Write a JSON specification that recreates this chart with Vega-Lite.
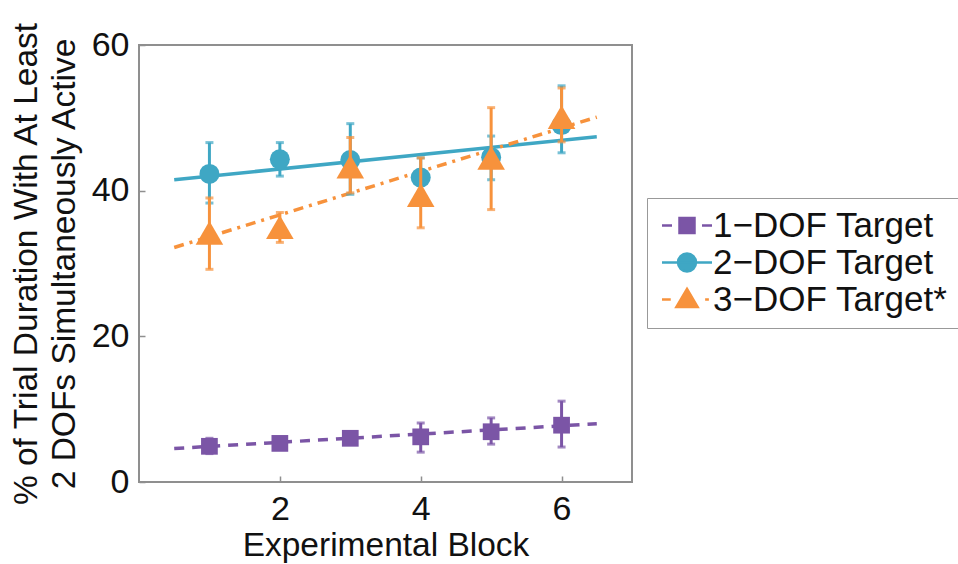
{
  "$schema": "https://vega.github.io/schema/vega-lite/v6.json",
  "width": 493,
  "height": 437,
  "autosize": "none",
  "padding": {"left": 139, "top": 45, "right": 326, "bottom": 82},
  "background": "white",
  "config": {
    "font": "Liberation Sans",
    "view": {"stroke": "#8f8f8f", "strokeWidth": 2},
    "axis": {
      "grid": false,
      "domain": false,
      "labelFont": "Liberation Sans",
      "labelFontSize": 34,
      "labelColor": "#111111",
      "titleFont": "Liberation Sans",
      "titleFontSize": 33.5,
      "titleFontWeight": "normal",
      "titleColor": "#111111",
      "tickColor": "#8f8f8f",
      "tickSize": -6,
      "tickWidth": 1.5
    }
  },
  "datasets": {
    "points": [
      {"series": "1−DOF Target", "block": 1, "mean": 4.9, "lo": 3.9, "hi": 6.0},
      {"series": "1−DOF Target", "block": 2, "mean": 5.3, "lo": 4.6, "hi": 6.0},
      {"series": "1−DOF Target", "block": 3, "mean": 6.0, "lo": 5.2, "hi": 6.8},
      {"series": "1−DOF Target", "block": 4, "mean": 6.2, "lo": 4.1, "hi": 8.1},
      {"series": "1−DOF Target", "block": 5, "mean": 6.9, "lo": 5.2, "hi": 8.8},
      {"series": "1−DOF Target", "block": 6, "mean": 7.8, "lo": 4.8, "hi": 11.1},
      {"series": "2−DOF Target", "block": 1, "mean": 42.3, "lo": 38.3, "hi": 46.6},
      {"series": "2−DOF Target", "block": 2, "mean": 44.3, "lo": 42.0, "hi": 46.6},
      {"series": "2−DOF Target", "block": 3, "mean": 44.2, "lo": 39.5, "hi": 49.2},
      {"series": "2−DOF Target", "block": 4, "mean": 41.8, "lo": 39.0, "hi": 44.5},
      {"series": "2−DOF Target", "block": 5, "mean": 44.6, "lo": 41.5, "hi": 47.5},
      {"series": "2−DOF Target", "block": 6, "mean": 49.0, "lo": 45.2, "hi": 54.4},
      {"series": "3−DOF Target*", "block": 1, "mean": 34.2, "lo": 29.2, "hi": 39.0},
      {"series": "3−DOF Target*", "block": 2, "mean": 35.0, "lo": 32.9, "hi": 37.0},
      {"series": "3−DOF Target*", "block": 3, "mean": 43.3, "lo": 39.7, "hi": 47.3},
      {"series": "3−DOF Target*", "block": 4, "mean": 39.4, "lo": 34.9, "hi": 44.5},
      {"series": "3−DOF Target*", "block": 5, "mean": 44.5, "lo": 37.4, "hi": 51.4},
      {"series": "3−DOF Target*", "block": 6, "mean": 50.1, "lo": 46.7, "hi": 54.1}
    ],
    "fits": [
      {"series": "1−DOF Target", "block": 0.5, "fit": 4.6},
      {"series": "1−DOF Target", "block": 6.5, "fit": 8.0},
      {"series": "2−DOF Target", "block": 0.5, "fit": 41.5},
      {"series": "2−DOF Target", "block": 6.5, "fit": 47.4},
      {"series": "3−DOF Target*", "block": 0.5, "fit": 32.2},
      {"series": "3−DOF Target*", "block": 6.5, "fit": 50.1}
    ]
  },
  "encoding": {
    "x": {
      "field": "block", "type": "quantitative",
      "scale": {"domain": [0, 7], "nice": false, "zero": false},
      "axis": {"values": [2, 4, 6], "title": "Experimental Block", "labelPadding": 16, "titlePadding": 3}
    },
    "color": {
      "field": "series", "type": "nominal",
      "scale": {"domain": ["1−DOF Target", "2−DOF Target", "3−DOF Target*"], "range": ["#7b55a6", "#3fa7c4", "#f7923c"]},
      "legend": {
        "title": null,
        "orient": "none",
        "legendX": 508,
        "legendY": 153,
        "labelFont": "Liberation Sans",
        "labelFontSize": 35,
        "labelColor": "#111111",
        "labelOffset": 21,
        "labelLimit": 500,
        "padding": 10,
        "rowPadding": 1,
        "strokeColor": "#999999",
        "fillColor": "white",
        "cornerRadius": 0,
        "symbolSize": 625,
        "symbolStrokeWidth": 2.5,
        "symbolOpacity": 1,
        "encoding": {
          "symbols": {
            "shape": {
              "condition": [
                {"test": "indexof(datum.value, '1') === 0", "value": "M-1,0H-0.2M0.4,-0.6H1.6V0.6H0.4ZM2.2,0H3"},
                {"test": "indexof(datum.value, '2') === 0", "value": "M-1,0H3M0.28,0A0.72,0.72 0 1,0 1.72,0A0.72,0.72 0 1,0 0.28,0Z"}
              ],
              "value": "M-1,0H-0.3M1,-0.85L1.85,0.6H0.15ZM2.45,0H2.75"
            },
            "strokeWidth": {"value": 2.5},
            "size": {"value": 625},
            "opacity": {"value": 1},
            "fillOpacity": {"value": 1}
          }
        }
      }
    }
  },
  "layer": [
    {
      "data": {"name": "fits"},
      "transform": [{"filter": "datum.series === '1−DOF Target'"}],
      "mark": {"type": "line", "strokeWidth": 3.5, "strokeDash": [10, 8]},
      "encoding": {
        "y": {
          "field": "fit", "type": "quantitative",
          "scale": {"domain": [0, 60], "nice": false},
          "axis": {
            "values": [0, 20, 40, 60],
            "title": "% of Trial Duration With At Least",
            "titleLineHeight": 38,
            "labelPadding": 16,
            "titlePadding": 10,
            "encoding": {"title": {"text": {"value": ["% of Trial Duration With At Least", "2 DOFs Simultaneously Active"]}}}
          }
        }
      }
    },
    {
      "data": {"name": "fits"},
      "transform": [{"filter": "datum.series === '2−DOF Target'"}],
      "mark": {"type": "line", "strokeWidth": 3.5},
      "encoding": {"y": {"field": "fit", "type": "quantitative"}}
    },
    {
      "data": {"name": "fits"},
      "transform": [{"filter": "datum.series === '3−DOF Target*'"}],
      "mark": {"type": "line", "strokeWidth": 3.5, "strokeDash": [10, 6, 3, 6]},
      "encoding": {"y": {"field": "fit", "type": "quantitative"}}
    },
    {
      "data": {"name": "points"},
      "transform": [{"filter": "datum.series === '1−DOF Target'"}],
      "mark": {"type": "errorbar", "thickness": 3, "ticks": {"size": 8, "thickness": 3}},
      "encoding": {"y": {"field": "lo", "type": "quantitative"}, "y2": {"field": "hi"}}
    },
    {
      "data": {"name": "points"},
      "transform": [{"filter": "datum.series === '1−DOF Target'"}],
      "mark": {"type": "point", "filled": true, "opacity": 1, "shape": "square", "size": 280},
      "encoding": {"y": {"field": "mean", "type": "quantitative"}}
    },
    {
      "data": {"name": "points"},
      "transform": [{"filter": "datum.series === '2−DOF Target'"}],
      "mark": {"type": "errorbar", "thickness": 3, "ticks": {"size": 8, "thickness": 3}},
      "encoding": {"y": {"field": "lo", "type": "quantitative"}, "y2": {"field": "hi"}}
    },
    {
      "data": {"name": "points"},
      "transform": [{"filter": "datum.series === '2−DOF Target'"}],
      "mark": {"type": "point", "filled": true, "opacity": 1, "shape": "circle", "size": 400},
      "encoding": {"y": {"field": "mean", "type": "quantitative"}}
    },
    {
      "data": {"name": "points"},
      "transform": [{"filter": "datum.series === '3−DOF Target*'"}],
      "mark": {"type": "errorbar", "thickness": 3, "ticks": {"size": 8, "thickness": 3}},
      "encoding": {"y": {"field": "lo", "type": "quantitative"}, "y2": {"field": "hi"}}
    },
    {
      "data": {"name": "points"},
      "transform": [{"filter": "datum.series === '3−DOF Target*'"}],
      "mark": {"type": "point", "filled": true, "opacity": 1, "shape": "triangle-up", "size": 760},
      "encoding": {"y": {"field": "mean", "type": "quantitative"}}
    }
  ]
}
